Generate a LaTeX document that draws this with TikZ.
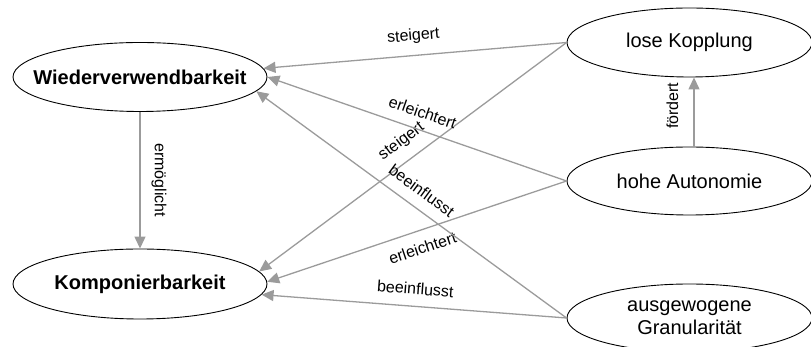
\documentclass[tikz,border=0pt]{standalone}
\usepackage{fontspec}
\setmainfont{Liberation Sans}
\usetikzlibrary{shapes.geometric,arrows.meta}
\definecolor{linegray}{HTML}{9B9B9B}
\newcommand{\zbox}[1]{\makebox[0pt]{#1}}
\begin{document}
\begin{tikzpicture}[x=1pt,y=1pt,
  ent/.style={ellipse,draw=black,line width=0.9pt,inner sep=0pt,
    font=\fontsize{20}{24}\selectfont},
  entb/.style={ent,font=\fontsize{20}{24}\selectfont\bfseries},
  rel/.style={draw=linegray,line width=1.3pt,-{Triangle[length=12pt,width=11pt]}},
  lbl/.style={font=\fontsize{16}{19}\selectfont,sloped,inner sep=2pt}]
\useasboundingbox (0,0) rectangle (811,347);
\node[entb,minimum width=254pt,minimum height=69pt] (wv) at (140,270) {\zbox{Wiederverwendbarkeit}};
\node[entb,minimum width=254pt,minimum height=70pt] (kb) at (140,63) {\zbox{Komponierbarkeit}};
\node[ent,minimum width=245pt,minimum height=69pt] (lk) at (689.5,304.5) {\zbox{lose Kopplung}};
\node[ent,minimum width=245pt,minimum height=68pt] (ha) at (689.5,166) {\zbox{hohe Autonomie}};
\node[ent,minimum width=245pt,minimum height=68pt] (ag) at (689.5,29) {\zbox{\begin{tabular}{@{}c@{}}ausgewogene\\[-1pt]Granularität\end{tabular}}};

\draw[rel] (lk.west) -- node[lbl,above=9pt]{steigert} (wv.4);
\draw[rel] (lk.west) -- node[lbl,above=9pt]{steigert} (kb.6);
\draw[rel] (ha.west) -- node[lbl,above=9pt]{erleichtert} (wv.east);
\draw[rel] (ha.west) -- node[lbl,below=9pt]{erleichtert} (kb.1);
\draw[rel] (ag.west) -- node[lbl,above=9pt]{beeinflusst} (wv.-7);
\draw[rel] (ag.west) -- node[lbl,above=9pt]{beeinflusst} (kb.-5);
\draw[rel] (wv.south) -- node[lbl,above=9pt]{ermöglicht} (kb.north);
\draw[rel] ([xshift=4.5pt]ha.north) -- node[lbl,above=13pt,pos=0.59]{fördert} ([xshift=4.5pt]lk.south);
\end{tikzpicture}
\end{document}
